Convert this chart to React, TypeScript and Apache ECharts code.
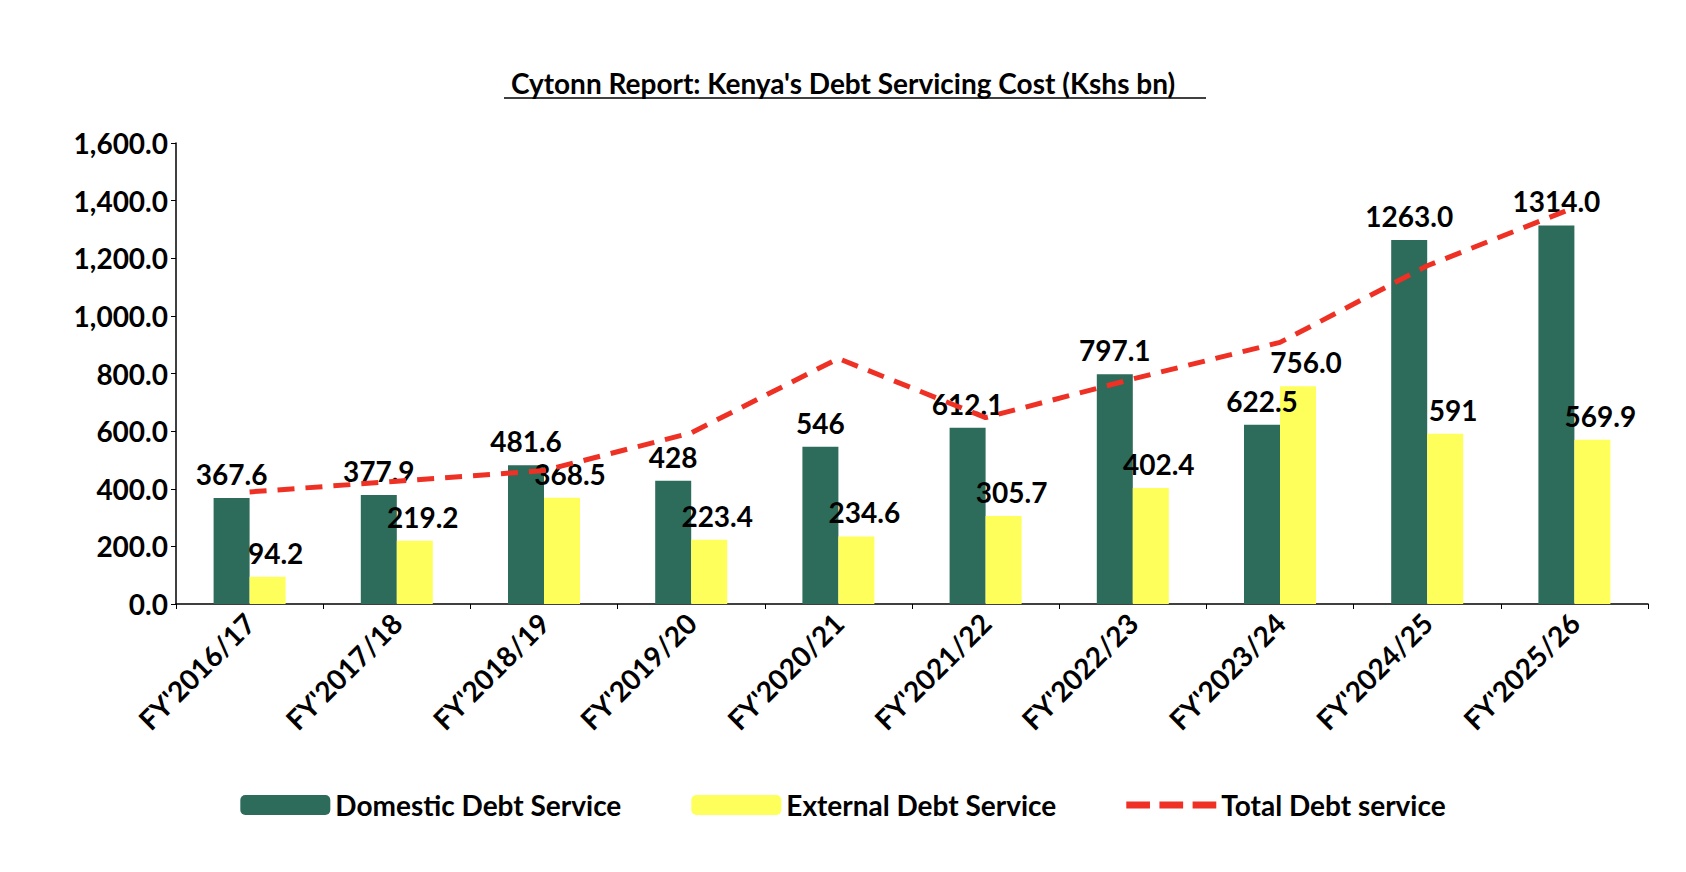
import React, { useEffect, useRef } from 'react';
import * as echarts from 'echarts';

const categories = ["FY'2016/17", "FY'2017/18", "FY'2018/19", "FY'2019/20", "FY'2020/21", "FY'2021/22", "FY'2022/23", "FY'2023/24", "FY'2024/25", "FY'2025/26"];
const domestic = [367.6, 377.9, 481.6, 428, 546, 612.1, 797.1, 622.5, 1263.0, 1314.0];
const domesticLabels = ['367.6', '377.9', '481.6', '428', '546', '612.1', '797.1', '622.5', '1263.0', '1314.0'];
const external = [94.2, 219.2, 368.5, 223.4, 234.6, 305.7, 402.4, 756.0, 591, 569.9];
const externalLabels = ['94.2', '219.2', '368.5', '223.4', '234.6', '305.7', '402.4', '756.0', '591', '569.9'];
const total = [389, 426, 463, 594, 852, 647, 781, 908, 1174, 1376];

const FONT = 'Lato';
const FS = 28;

const App: React.FC = () => {
  const ref = useRef<HTMLDivElement | null>(null);

  useEffect(() => {
    if (!ref.current) return;
    const chart = echarts.init(ref.current, undefined, { renderer: 'svg' });
    const lbl = { show: true, position: 'top', distance: 10, color: '#000', fontFamily: FONT, fontWeight: 'bold', fontSize: FS };
    chart.setOption({
      animation: false,
      textStyle: { fontFamily: FONT },
      title: {
        text: "Cytonn Report: Kenya's Debt Servicing Cost (Kshs bn)",
        left: 'center', top: 64,
        textStyle: { fontFamily: FONT, fontWeight: 'bold', fontSize: 28, color: '#000' },
      },
      graphic: [{ type: 'line', shape: { x1: 504, y1: 98, x2: 1206, y2: 98 }, style: { stroke: '#000', lineWidth: 1.5 } }],
      grid: { left: 176, right: 38, top: 143, bottom: 268 },
      legend: {
        bottom: 48, left: 'center', itemGap: 70, itemWidth: 90, itemHeight: 20,
        textStyle: { fontFamily: FONT, fontWeight: 'bold', fontSize: FS, color: '#000' },
        data: [
          { name: 'Domestic Debt Service' },
          { name: 'External Debt Service' },
          { name: 'Total Debt service', icon: 'path://M0,0H10V3H0Z M14,0H24V3H14Z M28,0H38V3H28Z' },
        ],
      },
      xAxis: {
        type: 'category', data: categories,
        axisLine: { lineStyle: { color: '#000', width: 1.5 } },
        axisTick: { show: true, lineStyle: { color: '#000' } },
        axisLabel: { rotate: 45, color: '#000', fontFamily: FONT, fontWeight: 'bold', fontSize: FS, margin: 14, interval: 0 },
      },
      yAxis: {
        type: 'value', min: 0, max: 1600, interval: 200,
        splitLine: { show: false },
        axisLine: { show: true, lineStyle: { color: '#000', width: 1.5 } },
        axisTick: { show: true, lineStyle: { color: '#000' } },
        axisLabel: { color: '#000', fontFamily: FONT, fontWeight: 'bold', fontSize: FS, formatter: (v: number) => v.toLocaleString('en-US', { minimumFractionDigits: 1 }) },
      },
      series: [
        {
          name: 'Domestic Debt Service', type: 'bar', data: domestic, barWidth: 36, barGap: '0%',
          itemStyle: { color: '#2D6B5A' },
          label: { ...lbl, formatter: (p: any) => domesticLabels[p.dataIndex] },
        },
        {
          name: 'External Debt Service', type: 'bar', data: external, barWidth: 36,
          itemStyle: { color: '#FFFF5C' },
          label: { ...lbl, offset: [8, 0], formatter: (p: any) => externalLabels[p.dataIndex] },
        },
        {
          name: 'Total Debt service', type: 'line', data: total, symbol: 'none', z: 5,
          lineStyle: { color: '#EE3124', width: 5, type: [17, 11] },
          itemStyle: { color: '#EE3124' },
        },
      ],
    });
    return () => chart.dispose();
  }, []);

  return <div ref={ref} style={{ position: 'fixed', left: 0, top: 0, width: 1686, height: 872, background: '#fff' }} />;
};

export default App;
